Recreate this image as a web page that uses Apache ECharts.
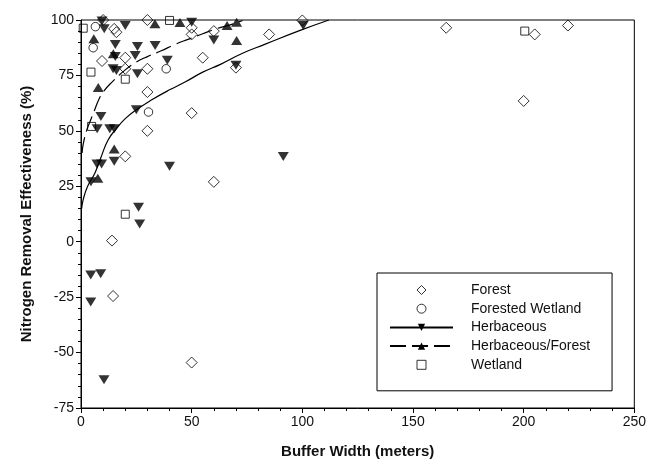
<!DOCTYPE html>
<html>
<head>
<meta charset="utf-8">
<script src="https://cdn.jsdelivr.net/npm/echarts@6/dist/echarts.min.js"></script>
<style>html,body{margin:0;padding:0;background:#fff}</style>
</head>
<body>
<div id="chart" style="width:649px;height:464px"></div>
<script>
    // buffer width (m), removal effectiveness (%)
    var forest = [[10, 100], [15, 96], [16, 94.5], [9.5, 81.5], [20, 83], [20, 78], [30, 78], [30, 100],
        [30, 67.5], [30, 50], [20, 38.5], [14, 0.5], [14.5, -24.5], [50, -54.5], [50, 58], [55, 83],
        [60, 95], [60, 27], [70, 78.5], [50, 96.5], [50, 93.5], [85, 93.5], [100, 99.8], [165, 96.5],
        [205, 93.5], [220, 97.5], [200, 63.5]];
    var forestedWetland = [[6.5, 97], [5.5, 87.5], [38.5, 78], [30.5, 58.5]];
    var herbaceous = [[9.5, 99.5], [10.5, 96], [20, 97.5], [15.5, 89], [25.5, 88], [33.5, 88.5], [15.5, 83.5],
        [24.5, 84], [14.5, 78], [16, 77.2], [25.5, 75.8], [39, 81.8], [25, 59.5], [9, 56.5], [7.3, 51],
        [13, 51], [15, 51], [15, 36.3], [7.2, 35], [9.3, 35], [40, 34], [4.5, 27], [26, 15.5], [26.5, 8],
        [4.4, -15], [8.9, -14.5], [4.4, -27.2], [10.4, -62.3], [91.4, 38.4], [50, 99], [60, 91],
        [70, 79.6], [100.4, 97.5]];
    var herbForest = [[5.8, 91.5], [14.6, 84.8], [7.8, 69.5], [15, 41.8], [7.6, 28.6], [33.4, 98.3],
        [44.7, 98.9], [66, 97.5], [70.3, 99], [70.3, 90.8]];
    var wetland = [[1, 96.3], [4.5, 76.5], [4.8, 52], [20, 73.3], [20, 12.4], [40, 99.8], [200.5, 95]];

    // fitted curves
    var herbCurve = [[0.3, 15], [1, 19], [3, 25], [6.3, 31], [9, 38], [12.3, 46], [16, 51], [20, 55.5],
        [25, 59.5], [32, 64], [40, 68.5], [47, 72], [55, 76.5], [63, 80], [73, 85], [83, 89], [99, 95.3],
        [112, 100]];
    var herbForestCurve = [[0.5, 40], [1, 44], [2.5, 50], [4, 54], [6, 59], [8, 64], [10, 67.5], [14, 72],
        [20, 77.5], [25, 81], [30, 83.5], [36, 86], [42.5, 89], [49, 91.5], [55, 93.8], [61, 96],
        [67, 97.7], [73, 99.8]];

    var legendNames = ['Forest', 'Forested Wetland', 'Herbaceous', 'Herbaceous/Forest', 'Wetland'];

    var FONT = 'Liberation Sans';
    var hollow = {color: 'transparent', borderColor: '#000', borderWidth: 1};
    // built-in shapes get stretched in the legend, paths keep their aspect
    var legendIcons = {
        'Forest': 'path://M5,0L10,5L5,10L0,5Z',
        'Wetland': 'path://M0,0L8,0L8,8L0,8Z'
    };

    var myChart = echarts.init(document.getElementById('chart'));
    myChart.setOption({
        animation: false,
        backgroundColor: '#fff',
        grid: {left: 81, right: 13, top: 20, bottom: 56, show: true, borderColor: '#000', borderWidth: 1},
        legend: {
            data: legendNames.map(function (n) {
                return legendIcons[n] ? {name: n, icon: legendIcons[n]} : {name: n};
            }),
            orient: 'vertical',
            left: 377,
            top: 273,
            padding: [9, 22, 18, 12],
            itemWidth: 63,
            itemHeight: 9,
            itemGap: 2.7,
            symbolKeepAspect: true,
            itemStyle: {borderWidth: 1},
            borderColor: '#000',
            borderWidth: 1,
            backgroundColor: '#fff',
            textStyle: {fontFamily: FONT, fontSize: 14, color: '#111', lineHeight: 16, padding: [0, 0, 0, 13]}
        },
        xAxis: {
            type: 'value', min: 0, max: 250, interval: 50,
            name: 'Buffer Width (meters)', nameLocation: 'middle', nameGap: 36,
            nameTextStyle: {fontFamily: FONT, fontSize: 15, fontWeight: 'bold', color: '#111'},
            axisLine: {onZero: false, lineStyle: {color: '#000'}},
            axisTick: {length: 5, lineStyle: {color: '#000'}},
            minorTick: {show: true, splitNumber: 5, length: 3, lineStyle: {color: '#000'}},
            splitLine: {show: false},
            axisLabel: {fontFamily: FONT, fontSize: 14, color: '#111', margin: 7}
        },
        yAxis: {
            type: 'value', min: -75, max: 100, interval: 25,
            name: 'Nitrogen Removal Effectiveness (%)', nameLocation: 'middle', nameGap: 47, nameRotate: 90,
            nameTextStyle: {fontFamily: FONT, fontSize: 15, fontWeight: 'bold', color: '#111'},
            axisLine: {show: true, onZero: false, lineStyle: {color: '#000'}},
            axisTick: {show: true, length: 5, lineStyle: {color: '#000'}},
            minorTick: {show: true, splitNumber: 5, length: 3, lineStyle: {color: '#000'}},
            splitLine: {show: false},
            axisLabel: {fontFamily: FONT, fontSize: 14, color: '#111', margin: 7}
        },
        series: [
            {
                name: 'Herbaceous', type: 'line', data: herbCurve, smooth: true, showSymbol: false,
                symbol: 'triangle', symbolRotate: 180, color: '#000',
                lineStyle: {color: '#000', width: 1.2}, z: 1
            },
            {
                name: 'Herbaceous/Forest', type: 'line', data: herbForestCurve, smooth: true, showSymbol: false,
                symbol: 'triangle', color: '#000',
                lineStyle: {color: '#000', width: 1.2, type: [16, 6]}, z: 1
            },
            {
                name: 'Forest', type: 'scatter', data: forest, symbol: 'diamond', symbolSize: 11,
                itemStyle: hollow, z: 3
            },
            {
                name: 'Forested Wetland', type: 'scatter', data: forestedWetland, symbol: 'circle', symbolSize: 8.5,
                itemStyle: hollow, z: 3
            },
            {
                name: 'Herbaceous', type: 'scatter', data: herbaceous, symbol: 'triangle', symbolRotate: 180,
                symbolSize: [11, 9], itemStyle: {color: '#000'}, z: 2
            },
            {
                name: 'Herbaceous/Forest', type: 'scatter', data: herbForest, symbol: 'triangle',
                symbolSize: [11, 9], itemStyle: {color: '#000'}, z: 2
            },
            {
                name: 'Wetland', type: 'scatter', data: wetland, symbol: 'rect', symbolSize: 8,
                itemStyle: hollow, z: 3
            }
        ]
    });
</script>
</body>
</html>
